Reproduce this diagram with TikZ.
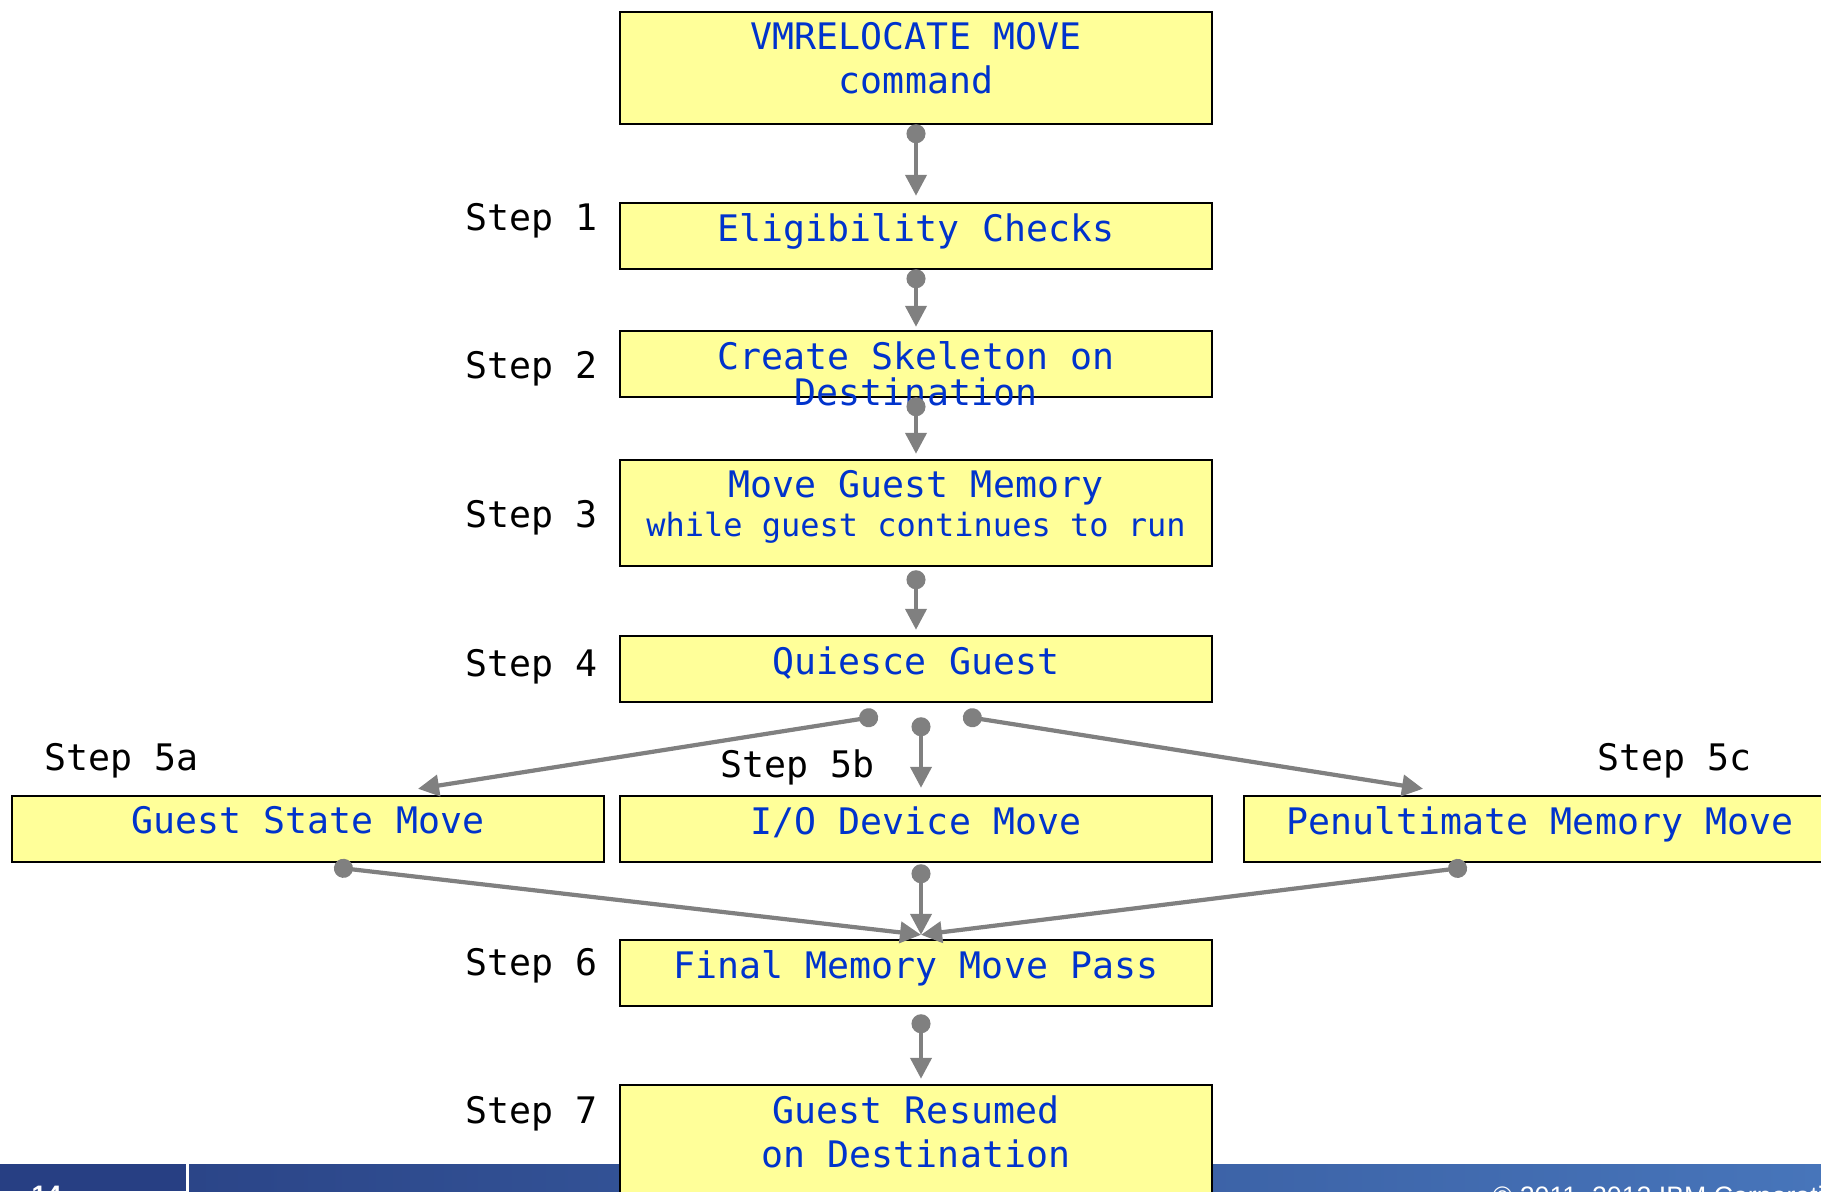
\documentclass[tikz,border=0pt]{standalone}
\usepackage{fontspec}
\setmonofont{DejaVu Sans Mono}
\setsansfont{Liberation Sans}
\usetikzlibrary{arrows.meta,calc}
\definecolor{boxyellow}{HTML}{FFFF99}
\definecolor{boxblue}{HTML}{0033CC}
\definecolor{bannerdark}{HTML}{273F83}
\definecolor{bannerleft}{HTML}{2B4588}
\definecolor{bannermid}{HTML}{3B5EA3}
\definecolor{bannerright}{HTML}{4775BA}
\tikzstyle{flowbox}=[draw=black, line width=0.7pt, fill=boxyellow, minimum width=5.92cm, inner sep=0pt]
\tikzstyle{boxtext}=[text=boxblue, font=\ttfamily\fontsize{10.4}{12.5}\selectfont, align=center, inner sep=0pt]
\tikzstyle{stepname}=[font=\ttfamily\fontsize{10.4}{12.5}\selectfont, inner sep=0pt]
\tikzstyle{footer}=[text=white, font=\sffamily\fontsize{7.6}{9}\selectfont, inner sep=0pt]
\tikzstyle{flowline}=[draw=gray, line width=1.2pt, {Circle[length=0.19cm]}-{Triangle[length=0.21cm, width=0.21cm]}]
\newcommand{\flowBox}[5][]{
	\node[flowbox, minimum height=#4] (#2) at #3 {};
	\node[boxtext, anchor=north, #1] (#2-text) at ($(#2.north)+(0,-0.11)$) {#5};
}

\begin{document}
\begin{tikzpicture}
	\useasboundingbox (0,0) rectangle (18.21,-11.91);
	\clip (0,0) rectangle (18.21,-11.91);
	\fill[bannerdark] (0,-11.64) rectangle (1.86,-11.91);
	\shade[left color=bannerleft, middle color=bannermid, right color=bannerright] (1.89,-11.64) rectangle (18.21,-11.91);
	\node[footer, font=\sffamily\bfseries\fontsize{7.6}{9}\selectfont, anchor=north west] (pagenum) at (0.31,-11.85) {14};
	\node[footer, anchor=north west] (copyright) at (14.92,-11.85) {© 2011, 2012 IBM Corporation};
	\flowBox{b0}{(9.16,-0.68)}{1.12cm}{VMRELOCATE MOVE\\command}
	\flowBox{b1}{(9.16,-2.36)}{0.66cm}{Eligibility Checks}
	\flowBox[font=\ttfamily\fontsize{10.4}{10.2}\selectfont]{b2}{(9.16,-3.64)}{0.66cm}{Create Skeleton on\\Destination}
	\flowBox[font=\ttfamily\fontsize{10.4}{11.1}\selectfont]{b3}{(9.16,-5.13)}{1.06cm}{Move Guest Memory\\{\fontsize{9.1}{11.1}\selectfont while guest continues to run}}
	\flowBox{b4}{(9.16,-6.69)}{0.66cm}{Quiesce Guest}
	\flowBox{b5a}{(3.08,-8.29)}{0.66cm}{Guest State Move}
	\flowBox{b5b}{(9.16,-8.29)}{0.66cm}{I/O Device Move}
	\flowBox{b5c}{(15.40,-8.29)}{0.66cm}{Penultimate Memory Move}
	\flowBox{b6}{(9.16,-9.73)}{0.66cm}{Final Memory Move Pass}
	\flowBox{b7}{(9.16,-11.41)}{1.12cm}{Guest Resumed\\on Destination}
	\node[stepname, anchor=base east] (s1) at (5.98,-2.30) {Step 1};
	\node[stepname, anchor=base east] (s2) at (5.98,-3.78) {Step 2};
	\node[stepname, anchor=base east] (s3) at (5.98,-5.27) {Step 3};
	\node[stepname, anchor=base east] (s4) at (5.98,-6.76) {Step 4};
	\node[stepname, anchor=base west] (s5a) at (0.44,-7.70) {Step 5a};
	\node[stepname, anchor=base west] (s5b) at (7.20,-7.77) {Step 5b};
	\node[stepname, anchor=base west] (s5c) at (15.97,-7.70) {Step 5c};
	\node[stepname, anchor=base east] (s6) at (5.98,-9.75) {Step 6};
	\node[stepname, anchor=base east] (s7) at (5.98,-11.23) {Step 7};
	\draw[flowline] ([yshift=0.01cm]b0.south) -- ([yshift=0.06cm]b1.north);
	\draw[flowline] ([yshift=0.01cm]b1.south) -- ([yshift=0.03cm]b2.north);
	\draw[flowline] ([yshift=0.01cm]b2.south) -- ([yshift=0.05cm]b3.north);
	\draw[flowline] ([yshift=-0.03cm]b3.south) -- ([yshift=0.05cm]b4.north);
	\draw[flowline] ([xshift=-0.38cm,yshift=-0.13cm]b4.south) -- ([xshift=1.10cm,yshift=0.06cm]b5a.north);
	\draw[flowline] ([xshift=0.05cm,yshift=-0.14cm]b4.south) -- ([xshift=0.05cm,yshift=0.07cm]b5b.north);
	\draw[flowline] ([xshift=0.47cm,yshift=-0.13cm]b4.south) -- ([xshift=-1.17cm,yshift=0.06cm]b5c.north);
	\draw[flowline] ([xshift=0.26cm,yshift=-0.04cm]b5a.south) -- ([xshift=0.05cm,yshift=0.04cm]b6.north);
	\draw[flowline] ([xshift=0.05cm,yshift=-0.01cm]b5b.south) -- ([xshift=0.05cm,yshift=0.04cm]b6.north);
	\draw[flowline] ([xshift=-0.73cm,yshift=-0.04cm]b5c.south) -- ([xshift=0.05cm,yshift=0.04cm]b6.north);
	\draw[flowline] ([xshift=0.05cm,yshift=-0.07cm]b6.south) -- ([xshift=0.05cm,yshift=0.05cm]b7.north);
\end{tikzpicture}
\end{document}
